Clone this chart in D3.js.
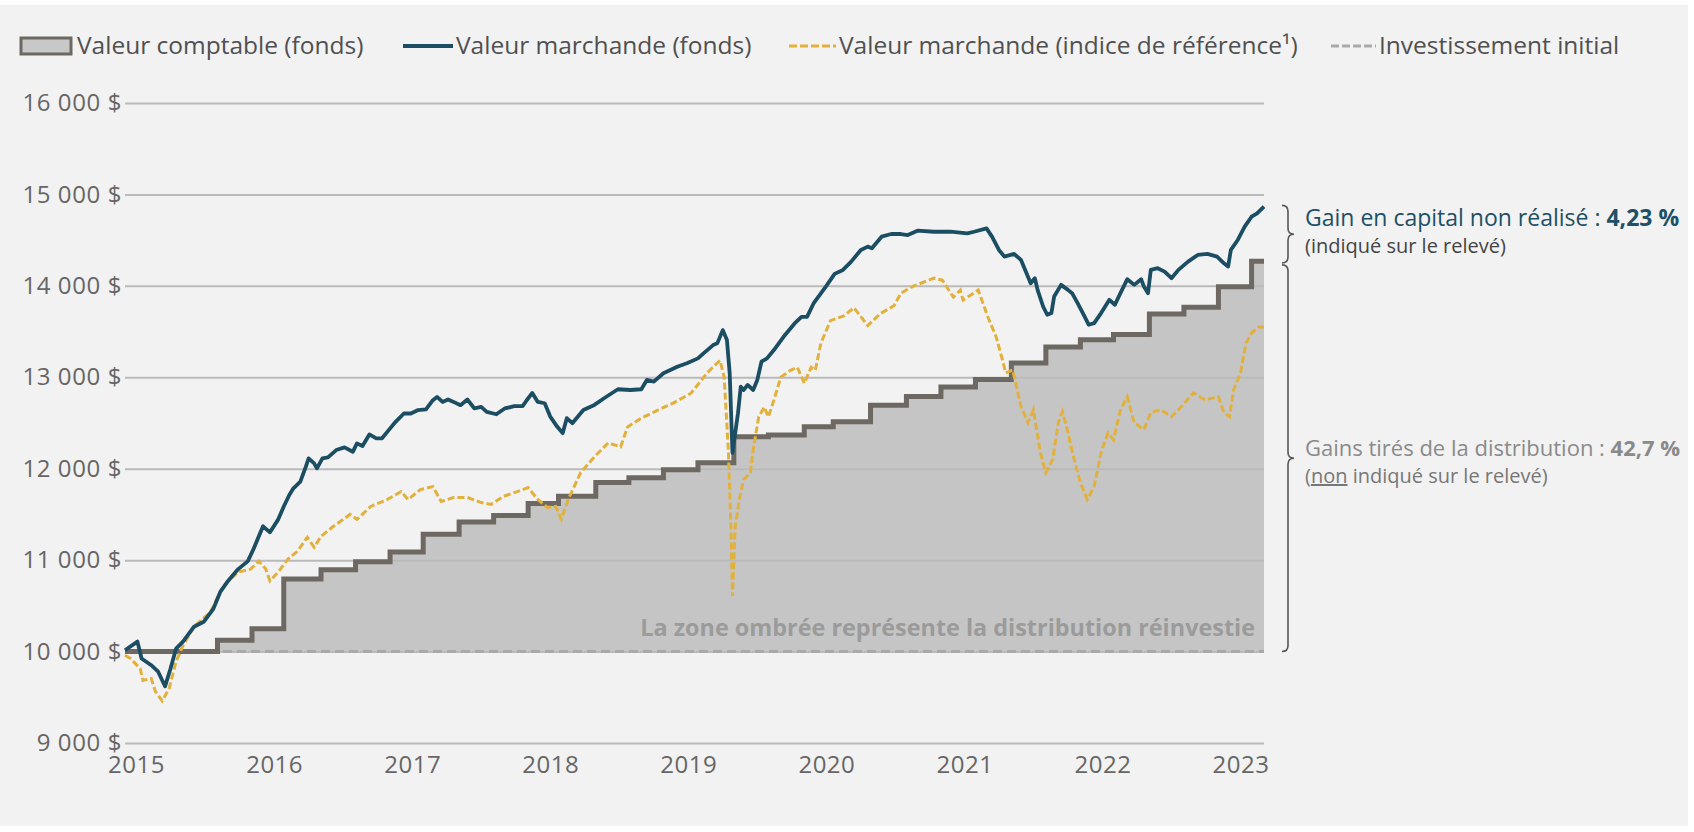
<!DOCTYPE html>
<html><head><meta charset="utf-8">
<script src="https://cdn.jsdelivr.net/npm/d3@7"></script>
<style>
html,body{margin:0;padding:0;background:#fff;}
svg{display:block;font-family:"Open Sans","Noto Sans",sans-serif;}
</style></head>
<body>
<svg id="chart" width="1694" height="832"></svg>
<script>
// ---- data (decimal years) ----
const yTicks = [9000, 10000, 11000, 12000, 13000, 14000, 15000, 16000];
const yearTicks = [2015, 2016, 2017, 2018, 2019, 2020, 2021, 2022, 2023];
const initialInvestment = 10000;
const startDate = 2014.92;
const endDate = 2023.17;

const bookDates = [2014.92,2015.59,2015.84,2016.07,2016.34,2016.59,2016.84,2017.08,2017.34,2017.59,2017.84,2018.06,2018.33,2018.57,2018.82,2019.07,2019.33,2019.58,2019.84,2020.05,2020.32,2020.58,2020.83,2021.08,2021.34,2021.59,2021.84,2022.08,2022.34,2022.59,2022.84,2023.08];
const bookValues = [10000,10123,10250,10793,10895,10982,11090,11283,11416,11489,11620,11700,11848,11900,11990,12065,12350,12370,12460,12515,12695,12790,12895,12975,13155,13330,13410,13467,13692,13765,13990,14270];

const fundDates = [2014.92,2015.01,2015.04,2015.11,2015.16,2015.21,2015.25,2015.29,2015.34,2015.42,2015.49,2015.56,2015.61,2015.66,2015.74,2015.81,2015.85,2015.92,2015.97,2016.03,2016.07,
2016.11,2016.14,2016.19,2016.23,2016.25,2016.29,2016.31,2016.35,2016.39,2016.45,2016.51,2016.57,2016.60,2016.64,2016.69,2016.74,2016.78,2016.83,2016.88,2016.94,2016.99,2017.04,2017.10,2017.15,2017.18,2017.22,2017.26,2017.30,2017.35,2017.40,2017.45,2017.50,2017.54,2017.61,2017.67,2017.74,2017.80,2017.83,2017.87,2017.91,
2017.96,2018.00,2018.05,2018.09,2018.12,2018.16,2018.24,2018.32,2018.39,2018.49,2018.58,2018.66,2018.70,2018.75,2018.82,2018.92,2018.99,2019.07,2019.11,2019.18,2019.21,2019.25,2019.28,2019.30,2019.32,2019.36,2019.38,2019.40,2019.43,2019.47,2019.50,2019.53,2019.57,2019.62,2019.69,2019.77,2019.82,2019.86,2019.91,2020.00,
2020.06,2020.12,2020.18,2020.25,2020.30,2020.33,2020.40,2020.47,2020.54,2020.59,2020.66,2020.78,2020.90,2021.02,2021.07,2021.16,2021.20,2021.25,2021.29,2021.36,2021.41,2021.48,
2021.51,2021.53,2021.57,2021.60,2021.63,2021.65,2021.70,2021.75,2021.78,2021.82,2021.87,2021.90,2021.94,2021.99,2022.05,2022.09,2022.13,2022.18,2022.23,2022.28,2022.30,2022.33,2022.35,2022.40,2022.45,2022.50,2022.55,2022.62,2022.69,2022.76,2022.83,2022.88,2022.91,2022.93,2022.98,2023.03,2023.08,2023.12,2023.17];
const fundValues = [10014,10109,9924,9851,9780,9620,9815,10033,10109,10272,10326,10467,10652,10760,10902,10989,11120,11370,11304,11446,11587,
11713,11786,11858,12022,12113,12059,12004,12113,12124,12204,12233,12185,12277,12248,12375,12331,12331,12422,12513,12604,12604,12640,12648,12749,12785,12731,12757,12731,12695,12757,12659,12676,12622,12596,12659,12684,12684,12749,12829,12731,
12716,12570,12461,12389,12553,12498,12643,12698,12771,12869,12861,12869,12971,12952,13044,13116,13153,13207,13262,13352,13371,13516,13407,13044,12174,12607,12898,12861,12916,12861,12971,13170,13207,13298,13443,13589,13661,13661,13815,14000,
14131,14174,14265,14393,14429,14411,14538,14567,14567,14556,14603,14592,14592,14575,14592,14629,14538,14393,14320,14349,14283,14029,
14084,13956,13774,13684,13702,13883,14011,13956,13920,13811,13666,13575,13593,13702,13847,13793,13920,14073,14011,14073,13993,13920,14175,14193,14156,14084,14175,14265,14338,14349,14320,14247,14211,14393,14502,14647,14756,14793,14866];

const benchDates = [2014.92,2014.96,2015.03,2015.05,2015.11,2015.14,2015.19,2015.24,2015.29,2015.34,2015.42,2015.54,2015.61,2015.66,2015.74,2015.83,2015.89,2015.94,2015.97,2016.03,2016.10,2016.17,2016.24,2016.29,2016.34,2016.43,2016.55,2016.60,2016.70,2016.82,2016.92,2016.97,2017.06,2017.15,2017.21,2017.30,2017.40,2017.50,2017.57,2017.66,2017.74,2017.84,2017.91,2017.98,2018.04,2018.08,2018.13,2018.22,2018.32,2018.42,2018.51,2018.56,2018.66,2018.78,2018.89,2019.02,2019.14,2019.23,2019.26,2019.29,2019.31,2019.32,2019.34,2019.37,2019.40,2019.45,2019.47,2019.51,2019.55,2019.58,2019.62,2019.67,2019.74,2019.79,2019.84,2019.89,2019.92,2019.96,2020.03,2020.13,2020.20,2020.30,2020.39,2020.49,2020.54,2020.63,2020.78,2020.84,2020.92,2020.97,2020.99,2021.10,2021.17,2021.23,2021.27,2021.30,2021.35,2021.41,2021.46,2021.50,2021.55,2021.59,2021.64,2021.68,2021.71,2021.75,2021.79,2021.84,2021.89,2021.94,2021.99,2022.04,2022.08,2022.13,2022.18,2022.23,2022.30,2022.35,2022.42,2022.50,2022.57,2022.66,2022.74,2022.84,2022.88,2022.92,2022.95,2023.00,2023.04,2023.08,2023.13,2023.17];
const benchValues = [9960,9924,9815,9685,9706,9565,9460,9598,9891,10065,10272,10435,10652,10760,10870,10902,10989,10902,10772,10870,11011,11098,11250,11141,11261,11370,11500,11446,11587,11663,11750,11663,11772,11804,11641,11685,11685,11630,11609,11696,11739,11793,11663,11576,11587,11446,11663,11957,12130,12283,12239,12457,12554,12641,12717,12826,13054,13185,13000,12207,11304,10609,11370,11663,11880,11957,12207,12565,12674,12565,12750,13000,13076,13109,12935,13109,13076,13370,13620,13674,13761,13565,13696,13783,13920,13997,14084,14062,13877,13953,13844,13953,13659,13441,13222,13048,13081,12677,12503,12645,12176,11957,12100,12503,12623,12394,12132,11848,11663,11805,12176,12394,12317,12645,12786,12503,12427,12612,12645,12568,12677,12830,12754,12786,12612,12568,12863,13048,13375,13484,13550,13550];

const legendLabels = ["Valeur comptable (fonds)", "Valeur marchande (fonds)", "Valeur marchande (indice de référence¹)", "Investissement initial"];

// ---- drawing ----
const svg = d3.select("#chart");
const C = {teal:"#1b4d63", gold:"#e2b13c", step:"#6d6962", fill:"#c5c5c5", grid:"#bababa", dash:"#a9a9a9", text:"#666"};

svg.append("rect").attr("x",0).attr("y",5).attr("width",1688).attr("height",821).attr("fill","#f2f2f2");

const x = d3.scaleLinear().domain([startDate, endDate]).range([125, 1264]);
const y = d3.scaleLinear().domain([9000, 16000]).range([743, 103]);

const loc = d3.formatLocale({decimal:",", thousands:"\u00a0", grouping:[3], currency:["","\u00a0$"]});
const fmt = loc.format("$,");

const book = bookDates.map((d,i)=>({d, v:bookValues[i]}));
book.push({d:endDate, v:bookValues[bookValues.length-1]});
const fund = fundDates.map((d,i)=>({d, v:fundValues[i]}));
const bench = benchDates.map((d,i)=>({d, v:benchValues[i]}));

// area
svg.append("path").datum(book)
  .attr("d", d3.area().curve(d3.curveStepAfter).x(p=>x(p.d)).y0(y(initialInvestment)).y1(p=>y(p.v)))
  .attr("fill", C.fill);

// gridlines / y axis
const yAxis = svg.append("g").attr("transform","translate(125,0)")
  .call(d3.axisLeft(y).tickValues(yTicks).tickFormat(fmt).tickSize(-(1264-125)).tickPadding(3));
yAxis.select(".domain").remove();
yAxis.selectAll("line").attr("stroke", C.grid).attr("stroke-width", 2);
yAxis.selectAll("text").attr("fill", C.text).attr("font-size", 24).attr("letter-spacing", 0.6).attr("font-family","Open Sans");

// x axis labels
const xAxis = svg.append("g").attr("transform","translate(0,743)")
  .call(d3.axisBottom(x).tickValues(yearTicks).tickFormat(d3.format("d")).tickSize(0).tickPadding(13));
xAxis.select(".domain").remove();
xAxis.selectAll("text").attr("fill", C.text).attr("font-size", 24).attr("letter-spacing", 0.5).attr("font-family","Open Sans");

// shaded text
svg.append("text").attr("x", 1255).attr("y", 636).attr("text-anchor","end")
  .attr("font-size", 23.4).attr("font-weight", 700).attr("fill", "#9b9b9b")
  .text("La zone ombrée représente la distribution réinvestie");

// initial investment
svg.append("line").attr("x1", x(startDate)).attr("x2", x(endDate)).attr("y1", y(initialInvestment)).attr("y2", y(initialInvestment))
  .attr("stroke", C.dash).attr("stroke-width", 3).attr("stroke-dasharray","9,5");

// book value step line
svg.append("path").datum(book)
  .attr("d", d3.line().curve(d3.curveStepAfter).x(p=>x(p.d)).y(p=>y(p.v)))
  .attr("fill","none").attr("stroke", C.step).attr("stroke-width", 5);

// benchmark
svg.append("path").datum(bench)
  .attr("d", d3.line().curve(d3.curveLinear).x(p=>x(p.d)).y(p=>y(p.v)))
  .attr("fill","none").attr("stroke", C.gold).attr("stroke-width", 3).attr("stroke-dasharray","7,3");

// fund
svg.append("path").datum(fund)
  .attr("d", d3.line().curve(d3.curveLinear).x(p=>x(p.d)).y(p=>y(p.v)))
  .attr("fill","none").attr("stroke", C.teal).attr("stroke-width", 3.8).attr("stroke-linejoin","round");

// legend
const lg = svg.append("g").attr("font-size", 24.5).attr("fill", "#505050");
lg.append("rect").attr("x",21).attr("y",38).attr("width",50).attr("height",16).attr("fill","#c8c8c8").attr("stroke",C.step).attr("stroke-width",3);
lg.append("text").attr("x",77).attr("y",54).text(legendLabels[0]);
lg.append("line").attr("x1",403).attr("x2",453).attr("y1",46).attr("y2",46).attr("stroke",C.teal).attr("stroke-width",4);
lg.append("text").attr("x",456).attr("y",54).text(legendLabels[1]);
lg.append("line").attr("x1",789).attr("x2",836).attr("y1",46).attr("y2",46).attr("stroke",C.gold).attr("stroke-width",3).attr("stroke-dasharray","8,3");
lg.append("text").attr("x",839).attr("y",54).text(legendLabels[2]);
lg.append("line").attr("x1",1331).attr("x2",1376).attr("y1",46).attr("y2",46).attr("stroke",C.dash).attr("stroke-width",3).attr("stroke-dasharray","8,3");
lg.append("text").attr("x",1379).attr("y",54).text(legendLabels[3]);

// braces
function brace(x0, y0, y1, w){
  const m = (y0+y1)/2, r = 6;
  return `M${x0},${y0} Q${x0+r},${y0} ${x0+r},${y0+r} L${x0+r},${m-r} Q${x0+r},${m} ${x0+w},${m} Q${x0+r},${m} ${x0+r},${m+r} L${x0+r},${y1-r} Q${x0+r},${y1} ${x0},${y1}`;
}
const topY0 = y(14880), topY1 = y(14250), botY0 = y(14230), botY1 = y(initialInvestment);
svg.append("path").attr("d", brace(1282, topY0, topY1, 12)).attr("fill","none").attr("stroke","#555").attr("stroke-width",1.6);
svg.append("path").attr("d", brace(1282, botY0, botY1, 12)).attr("fill","none").attr("stroke","#555").attr("stroke-width",1.6);

const t1 = svg.append("text").attr("x",1305).attr("y",226).attr("font-size",23).attr("fill","#1e5066");
t1.append("tspan").text("Gain en capital non réalisé : ");
t1.append("tspan").attr("font-weight",700).text("4,23 %");
svg.append("text").attr("x",1305).attr("y",253).attr("font-size",20).attr("fill","#444").text("(indiqué sur le relevé)");

const t2 = svg.append("text").attr("x",1305).attr("y",456).attr("font-size",22).attr("fill","#8a8a8a");
t2.append("tspan").text("Gains tirés de la distribution : ");
t2.append("tspan").attr("font-weight",700).text("42,7 %");
const t3 = svg.append("text").attr("x",1305).attr("y",483).attr("font-size",20).attr("fill","#777");
t3.append("tspan").text("(");
t3.append("tspan").attr("text-decoration","underline").text("non");
t3.append("tspan").text(" indiqué sur le relevé)");
</script>
</body></html>
